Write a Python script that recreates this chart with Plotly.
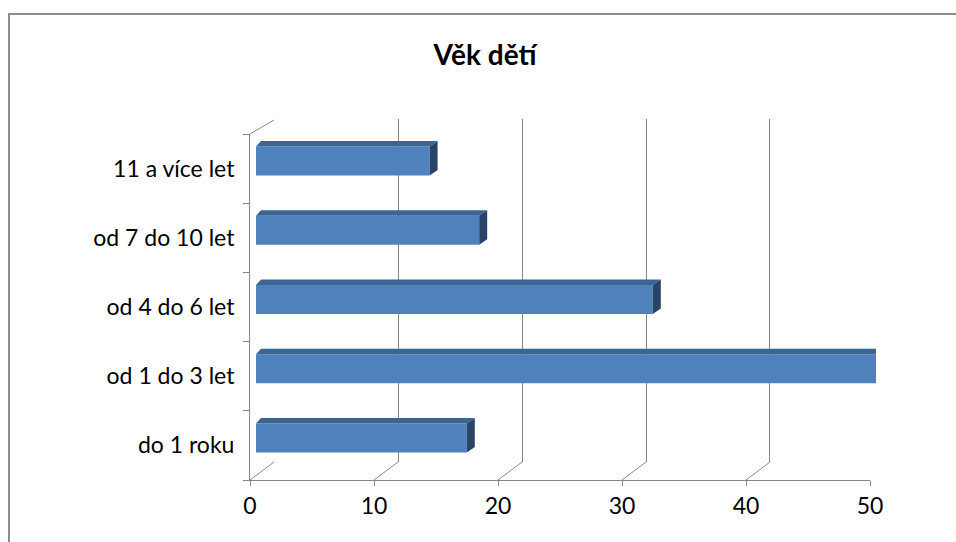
import plotly.graph_objects as go

categories = ["do 1 roku", "od 1 do 3 let", "od 4 do 6 let", "od 7 do 10 let", "11 a více let"]
values = [17, 50, 32, 18, 14]
x_ticks = [0, 10, 20, 30, 40, 50]
title_text = "Věk dětí"

W, H = 956, 542
def px(x):
    return x / W
def py(y):
    return 1 - y / H

FONT = "Lato"
AXIS_COL = "#868686"
FRONT = "#4F81BD"
TOP = "#3C6591"
SIDE = "#2A4467"

XU = 12.4      # px per x unit
YU = 69.2      # px per category
bar_w = 29 / YU
dy = 5.5 / YU
dxL = 5 / XU
dxR = 8 / XU

idx = list(range(len(categories)))

fig = go.Figure()
# invisible trace on back-wall grid subplot
fig.add_trace(go.Scatter(x=[0, 50], y=[0, 1], mode="markers", marker=dict(opacity=0),
                         xaxis="x2", yaxis="y2", showlegend=False, hoverinfo="skip"))
# bars (front faces)
fig.add_trace(go.Bar(
    x=values, y=idx, orientation="h", width=bar_w,
    marker=dict(color=FRONT, line=dict(width=0)),
    xaxis="x3", yaxis="y3", showlegend=False,
    hovertext=categories, hoverinfo="text+x",
))
# 3D top and side faces derived from the values
top_x, top_y, side_x, side_y = [], [], [], []
for i, v in zip(idx, values):
    yt = i + bar_w / 2
    yb = i - bar_w / 2
    top_x += [0, v, v + dxR, dxL, 0, None]
    top_y += [yt, yt, yt + dy, yt + dy, yt, None]
    side_x += [v, v + dxR, v + dxR, v, v, None]
    side_y += [yt, yt + dy, yb + dy, yb, yt, None]
fig.add_trace(go.Scatter(x=top_x, y=top_y, fill="toself", fillcolor=TOP, mode="lines",
                         line=dict(width=0, color=TOP), xaxis="x3", yaxis="y3",
                         showlegend=False, hoverinfo="skip"))
fig.add_trace(go.Scatter(x=side_x, y=side_y, fill="toself", fillcolor=SIDE, mode="lines",
                         line=dict(width=0, color=SIDE), xaxis="x3", yaxis="y3",
                         showlegend=False, hoverinfo="skip"))
# invisible trace on the front axes
fig.add_trace(go.Scatter(x=values, y=idx, mode="markers", marker=dict(opacity=0),
                         showlegend=False, hoverinfo="skip"))

shapes = []
# chart border
shapes.append(dict(type="rect", xref="paper", yref="paper",
                   x0=px(9), y0=py(600), x1=px(1000), y1=py(14),
                   line=dict(color="#8C8C8C", width=2), layer="below"))
# floor diagonals
for k in x_ticks:
    shapes.append(dict(type="line", xref="x", yref="paper",
                       x0=k, y0=py(480), x1=k + 24 / XU, y1=py(462),
                       line=dict(color=AXIS_COL, width=1)))
# left wall top diagonal
shapes.append(dict(type="line", xref="x", yref="paper",
                   x0=0, y0=py(134), x1=24 / XU, y1=py(120),
                   line=dict(color=AXIS_COL, width=1)))

fig.update_layout(
    width=W, height=H, autosize=False,
    margin=dict(l=0, r=0, t=0, b=0, autoexpand=False),
    paper_bgcolor="white", plot_bgcolor="rgba(0,0,0,0)",
    showlegend=False,
    font=dict(family=FONT, size=23, color="#000000"),
    title=dict(text="<b>" + title_text + "</b>", x=px(485), y=py(55),
               xanchor="center", yanchor="middle", automargin=False,
               font=dict(family=FONT, size=28, color="#000000")),
    xaxis=dict(domain=[px(250), px(870)], range=[0, 50], anchor="y", automargin=False,
               showline=True, linecolor=AXIS_COL, linewidth=1,
               ticks="outside", ticklen=5, tickcolor=AXIS_COL,
               tickvals=x_ticks, showgrid=False, zeroline=False,
               tickfont=dict(family=FONT, size=23, color="#000000")),
    yaxis=dict(domain=[py(480), py(134)], range=[-0.5, len(categories) - 0.5],
               anchor="x", automargin=False, showline=True, linecolor=AXIS_COL, linewidth=1,
               tickvals=idx, ticktext=categories, ticks="", showgrid=False,
               zeroline=False, ticklabelstandoff=10,
               minor=dict(tickvals=[i - 0.5 for i in range(len(categories) + 1)],
                          ticks="outside", ticklen=6, tickcolor=AXIS_COL, showgrid=False),
               tickfont=dict(family=FONT, size=23, color="#000000")),
    xaxis2=dict(domain=[px(274), px(894)], range=[-0.001, 50.001], anchor="y2", automargin=False,
                showgrid=True, gridcolor=AXIS_COL, gridwidth=1, tickvals=x_ticks,
                showticklabels=False, ticks="", showline=False, zeroline=False),
    yaxis2=dict(domain=[py(462), py(119)], range=[0, 1], anchor="x2", automargin=False,
                showgrid=False, showticklabels=False, ticks="", showline=False,
                zeroline=False),
    xaxis3=dict(domain=[px(256), px(256 + 50 * XU)], range=[0, 50], anchor="y3",
                automargin=False, visible=False, showgrid=False),
    yaxis3=dict(domain=[py(480 - 7.5), py(134 - 7.5)], range=[-0.5, len(categories) - 0.5],
                anchor="x3", automargin=False, visible=False, showgrid=False),
    shapes=shapes,
)

fig.write_html(
    "out.html",
    config={"responsive": False, "displayModeBar": False},
    post_script="document.body.style.margin='0';document.body.style.overflow='hidden';",
)
